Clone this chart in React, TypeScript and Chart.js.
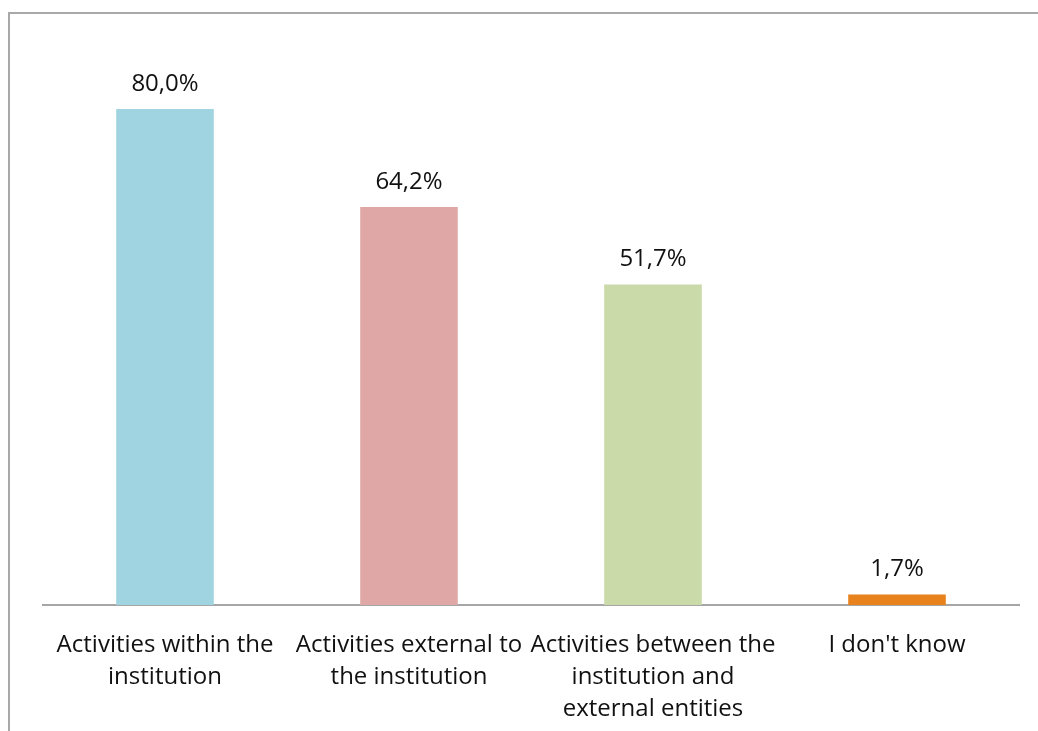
import React, { useEffect, useRef } from "react";
import { Chart, registerables } from "chart.js";

Chart.register(...registerables);

const categories: string[][] = [
  ["Activities within the", "institution"],
  ["Activities external to", "the institution"],
  ["Activities between the", "institution and", "external entities"],
  ["I don't know"],
];
const values: number[] = [80.0, 64.2, 51.7, 1.7];
const valueLabels: string[] = ["80,0%", "64,2%", "51,7%", "1,7%"];
const barColors: string[] = ["#a0d4e1", "#dfa8a6", "#cbdaa9", "#e8821c"];

const FONT = "'Open Sans', sans-serif";

export default function App() {
  const ref = useRef<HTMLCanvasElement | null>(null);

  useEffect(() => {
    if (!ref.current) return;
    const framePlugin = {
      id: "frame",
      beforeDraw(chart: any) {
        const ctx = chart.ctx;
        ctx.save();
        ctx.fillStyle = "#ffffff";
        ctx.fillRect(0, 0, chart.width, chart.height);
        ctx.strokeStyle = "#a9a9a9";
        ctx.lineWidth = 2;
        ctx.beginPath();
        ctx.moveTo(9, chart.height);
        ctx.lineTo(9, 13);
        ctx.lineTo(chart.width, 13);
        ctx.stroke();
        ctx.restore();
      },
    };
    const labelPlugin = {
      id: "valueLabels",
      afterDatasetsDraw(chart: any) {
        const ctx = chart.ctx;
        const meta = chart.getDatasetMeta(0);
        ctx.save();
        ctx.font = `24px ${FONT}`;
        ctx.fillStyle = "#111111";
        ctx.textAlign = "center";
        ctx.textBaseline = "bottom";
        meta.data.forEach((bar: any, i: number) => {
          ctx.fillText(valueLabels[i], bar.x, bar.y - 13);
        });
        ctx.restore();
      },
    };
    const chart = new Chart(ref.current, {
      type: "bar",
      data: {
        labels: categories,
        datasets: [
          {
            data: values,
            backgroundColor: barColors,
            borderWidth: 0,
            categoryPercentage: 1,
            barPercentage: 0.4,
          },
        ],
      },
      options: {
        animation: false,
        responsive: false,
        devicePixelRatio: 1,
        layout: { padding: { left: 43, right: 19, top: 47, bottom: 0 } },
        plugins: { legend: { display: false }, tooltip: { enabled: false } },
        scales: {
          x: {
            grid: { display: false, drawTicks: false },
            border: { display: true, color: "#a6a6a6", width: 2 },
            ticks: {
              color: "#111111",
              font: { family: FONT, size: 24, lineHeight: 1.333 },
              padding: 24,
              maxRotation: 0,
              autoSkip: false,
            },
            afterFit(scale: any) {
              scale.height = 126;
            },
          },
          y: { display: false, min: 0, max: 90 },
        },
      },
      plugins: [framePlugin, labelPlugin],
    });
    return () => chart.destroy();
  }, []);

  return (
    <div style={{ position: "absolute", left: 0, top: 0, width: 1038, height: 731 }}>
      <canvas ref={ref} width={1038} height={731} style={{ display: "block" }} />
    </div>
  );
}
